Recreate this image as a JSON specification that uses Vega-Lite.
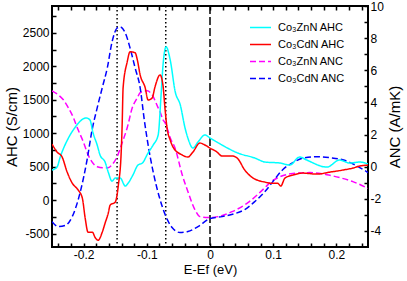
{
  "$schema": "https://vega.github.io/schema/vega-lite/v6.json",
  "width": 316,
  "height": 241,
  "autosize": {"type": "none"},
  "padding": {"left": 52, "top": 6, "right": 39, "bottom": 34},
  "config": {
    "view": {"stroke": "#000", "strokeWidth": 2},
    "font": "Liberation Sans",
    "axis": {"domain": false, "grid": false, "tickColor": "#000", "tickWidth": 1.5, "tickSize": -4, "labelColor": "#000", "titleColor": "#000", "labelFont": "Liberation Sans", "titleFont": "Liberation Sans", "labelFontSize": 12, "titleFontSize": 15, "titleFontWeight": "normal"},
    "legend": {"orient": "none", "legendX": 197, "legendY": 10, "symbolType": "stroke", "symbolSize": 441, "symbolStrokeWidth": 1.5, "labelFontSize": 11, "labelFont": "Liberation Sans", "labelColor": "#000", "rowPadding": 0, "labelOffset": 6, "padding": 0}
  },
  "data": {"values": [
    {"s": "Co₃ZnN AHC", "e": -0.25, "v": 450},
    {"s": "Co₃ZnN AHC", "e": -0.242, "v": 494},
    {"s": "Co₃ZnN AHC", "e": -0.237, "v": 644},
    {"s": "Co₃ZnN AHC", "e": -0.224, "v": 928},
    {"s": "Co₃ZnN AHC", "e": -0.213, "v": 1093},
    {"s": "Co₃ZnN AHC", "e": -0.205, "v": 1183},
    {"s": "Co₃ZnN AHC", "e": -0.196, "v": 1228},
    {"s": "Co₃ZnN AHC", "e": -0.19, "v": 1198},
    {"s": "Co₃ZnN AHC", "e": -0.185, "v": 1003},
    {"s": "Co₃ZnN AHC", "e": -0.1785, "v": 823},
    {"s": "Co₃ZnN AHC", "e": -0.174, "v": 674},
    {"s": "Co₃ZnN AHC", "e": -0.166, "v": 569},
    {"s": "Co₃ZnN AHC", "e": -0.161, "v": 419},
    {"s": "Co₃ZnN AHC", "e": -0.155, "v": 284},
    {"s": "Co₃ZnN AHC", "e": -0.15, "v": 329},
    {"s": "Co₃ZnN AHC", "e": -0.142, "v": 329},
    {"s": "Co₃ZnN AHC", "e": -0.134, "v": 210},
    {"s": "Co₃ZnN AHC", "e": -0.1295, "v": 254},
    {"s": "Co₃ZnN AHC", "e": -0.122, "v": 374},
    {"s": "Co₃ZnN AHC", "e": -0.114, "v": 524},
    {"s": "Co₃ZnN AHC", "e": -0.107, "v": 554},
    {"s": "Co₃ZnN AHC", "e": -0.098, "v": 704},
    {"s": "Co₃ZnN AHC", "e": -0.09, "v": 823},
    {"s": "Co₃ZnN AHC", "e": -0.082, "v": 973},
    {"s": "Co₃ZnN AHC", "e": -0.0774, "v": 1572},
    {"s": "Co₃ZnN AHC", "e": -0.0743, "v": 2021},
    {"s": "Co₃ZnN AHC", "e": -0.0695, "v": 2290},
    {"s": "Co₃ZnN AHC", "e": -0.063, "v": 2096},
    {"s": "Co₃ZnN AHC", "e": -0.055, "v": 1617},
    {"s": "Co₃ZnN AHC", "e": -0.047, "v": 1422},
    {"s": "Co₃ZnN AHC", "e": -0.0395, "v": 1078},
    {"s": "Co₃ZnN AHC", "e": -0.035, "v": 928},
    {"s": "Co₃ZnN AHC", "e": -0.027, "v": 778},
    {"s": "Co₃ZnN AHC", "e": -0.019, "v": 868},
    {"s": "Co₃ZnN AHC", "e": -0.008, "v": 973},
    {"s": "Co₃ZnN AHC", "e": 0, "v": 928},
    {"s": "Co₃ZnN AHC", "e": 0.019, "v": 823},
    {"s": "Co₃ZnN AHC", "e": 0.044, "v": 704},
    {"s": "Co₃ZnN AHC", "e": 0.071, "v": 629},
    {"s": "Co₃ZnN AHC", "e": 0.087, "v": 569},
    {"s": "Co₃ZnN AHC", "e": 0.111, "v": 554},
    {"s": "Co₃ZnN AHC", "e": 0.126, "v": 524},
    {"s": "Co₃ZnN AHC", "e": 0.142, "v": 644},
    {"s": "Co₃ZnN AHC", "e": 0.153, "v": 599},
    {"s": "Co₃ZnN AHC", "e": 0.185, "v": 494},
    {"s": "Co₃ZnN AHC", "e": 0.205, "v": 599},
    {"s": "Co₃ZnN AHC", "e": 0.221, "v": 554},
    {"s": "Co₃ZnN AHC", "e": 0.237, "v": 569},
    {"s": "Co₃ZnN AHC", "e": 0.25, "v": 539},

    {"s": "Co₃CdN AHC", "e": -0.25, "v": 838},
    {"s": "Co₃CdN AHC", "e": -0.242, "v": 719},
    {"s": "Co₃CdN AHC", "e": -0.234, "v": 644},
    {"s": "Co₃CdN AHC", "e": -0.226, "v": 419},
    {"s": "Co₃CdN AHC", "e": -0.218, "v": 254},
    {"s": "Co₃CdN AHC", "e": -0.2085, "v": 150},
    {"s": "Co₃CdN AHC", "e": -0.202, "v": 30},
    {"s": "Co₃CdN AHC", "e": -0.1975, "v": -269},
    {"s": "Co₃CdN AHC", "e": -0.193, "v": -479},
    {"s": "Co₃CdN AHC", "e": -0.186, "v": -479},
    {"s": "Co₃CdN AHC", "e": -0.182, "v": -554},
    {"s": "Co₃CdN AHC", "e": -0.177, "v": -599},
    {"s": "Co₃CdN AHC", "e": -0.1705, "v": -479},
    {"s": "Co₃CdN AHC", "e": -0.166, "v": -344},
    {"s": "Co₃CdN AHC", "e": -0.161, "v": -195},
    {"s": "Co₃CdN AHC", "e": -0.158, "v": -75},
    {"s": "Co₃CdN AHC", "e": -0.15, "v": -30},
    {"s": "Co₃CdN AHC", "e": -0.145, "v": 225},
    {"s": "Co₃CdN AHC", "e": -0.1405, "v": 719},
    {"s": "Co₃CdN AHC", "e": -0.139, "v": 1123},
    {"s": "Co₃CdN AHC", "e": -0.1375, "v": 1677},
    {"s": "Co₃CdN AHC", "e": -0.131, "v": 2066},
    {"s": "Co₃CdN AHC", "e": -0.1265, "v": 2216},
    {"s": "Co₃CdN AHC", "e": -0.1185, "v": 2201},
    {"s": "Co₃CdN AHC", "e": -0.115, "v": 2096},
    {"s": "Co₃CdN AHC", "e": -0.1105, "v": 1871},
    {"s": "Co₃CdN AHC", "e": -0.1025, "v": 1677},
    {"s": "Co₃CdN AHC", "e": -0.098, "v": 1497},
    {"s": "Co₃CdN AHC", "e": -0.0915, "v": 1527},
    {"s": "Co₃CdN AHC", "e": -0.087, "v": 1692},
    {"s": "Co₃CdN AHC", "e": -0.079, "v": 1871},
    {"s": "Co₃CdN AHC", "e": -0.0745, "v": 1722},
    {"s": "Co₃CdN AHC", "e": -0.071, "v": 1347},
    {"s": "Co₃CdN AHC", "e": -0.068, "v": 1078},
    {"s": "Co₃CdN AHC", "e": -0.063, "v": 898},
    {"s": "Co₃CdN AHC", "e": -0.0585, "v": 793},
    {"s": "Co₃CdN AHC", "e": -0.044, "v": 674},
    {"s": "Co₃CdN AHC", "e": -0.035, "v": 644},
    {"s": "Co₃CdN AHC", "e": -0.027, "v": 719},
    {"s": "Co₃CdN AHC", "e": -0.016, "v": 853},
    {"s": "Co₃CdN AHC", "e": -0.008, "v": 823},
    {"s": "Co₃CdN AHC", "e": 0, "v": 778},
    {"s": "Co₃CdN AHC", "e": 0.011, "v": 719},
    {"s": "Co₃CdN AHC", "e": 0.019, "v": 659},
    {"s": "Co₃CdN AHC", "e": 0.035, "v": 659},
    {"s": "Co₃CdN AHC", "e": 0.043, "v": 629},
    {"s": "Co₃CdN AHC", "e": 0.055, "v": 449},
    {"s": "Co₃CdN AHC", "e": 0.066, "v": 344},
    {"s": "Co₃CdN AHC", "e": 0.087, "v": 269},
    {"s": "Co₃CdN AHC", "e": 0.095, "v": 254},
    {"s": "Co₃CdN AHC", "e": 0.107, "v": 254},
    {"s": "Co₃CdN AHC", "e": 0.112, "v": 210},
    {"s": "Co₃CdN AHC", "e": 0.1185, "v": 329},
    {"s": "Co₃CdN AHC", "e": 0.131, "v": 374},
    {"s": "Co₃CdN AHC", "e": 0.147, "v": 404},
    {"s": "Co₃CdN AHC", "e": 0.169, "v": 389},
    {"s": "Co₃CdN AHC", "e": 0.19, "v": 419},
    {"s": "Co₃CdN AHC", "e": 0.21, "v": 449},
    {"s": "Co₃CdN AHC", "e": 0.226, "v": 479},
    {"s": "Co₃CdN AHC", "e": 0.237, "v": 509},
    {"s": "Co₃CdN AHC", "e": 0.25, "v": 524},

    {"s": "Co₃ZnN ANC", "e": -0.25, "v": 4.72},
    {"s": "Co₃ZnN ANC", "e": -0.24, "v": 4.47},
    {"s": "Co₃ZnN ANC", "e": -0.232, "v": 4.16},
    {"s": "Co₃ZnN ANC", "e": -0.224, "v": 3.66},
    {"s": "Co₃ZnN ANC", "e": -0.216, "v": 3.04},
    {"s": "Co₃ZnN ANC", "e": -0.21, "v": 2.42},
    {"s": "Co₃ZnN ANC", "e": -0.2005, "v": 1.55},
    {"s": "Co₃ZnN ANC", "e": -0.193, "v": 0.75},
    {"s": "Co₃ZnN ANC", "e": -0.1785, "v": 0},
    {"s": "Co₃ZnN ANC", "e": -0.169, "v": -0.06},
    {"s": "Co₃ZnN ANC", "e": -0.161, "v": -0.06},
    {"s": "Co₃ZnN ANC", "e": -0.155, "v": 0.12},
    {"s": "Co₃ZnN ANC", "e": -0.147, "v": 0.62},
    {"s": "Co₃ZnN ANC", "e": -0.139, "v": 1.49},
    {"s": "Co₃ZnN ANC", "e": -0.131, "v": 2.42},
    {"s": "Co₃ZnN ANC", "e": -0.123, "v": 3.66},
    {"s": "Co₃ZnN ANC", "e": -0.115, "v": 4.29},
    {"s": "Co₃ZnN ANC", "e": -0.1105, "v": 4.6},
    {"s": "Co₃ZnN ANC", "e": -0.0995, "v": 4.72},
    {"s": "Co₃ZnN ANC", "e": -0.0915, "v": 4.47},
    {"s": "Co₃ZnN ANC", "e": -0.082, "v": 3.66},
    {"s": "Co₃ZnN ANC", "e": -0.079, "v": 3.42},
    {"s": "Co₃ZnN ANC", "e": -0.0745, "v": 2.92},
    {"s": "Co₃ZnN ANC", "e": -0.071, "v": 2.73},
    {"s": "Co₃ZnN ANC", "e": -0.068, "v": 2.42},
    {"s": "Co₃ZnN ANC", "e": -0.063, "v": 1.8},
    {"s": "Co₃ZnN ANC", "e": -0.0555, "v": 1.18},
    {"s": "Co₃ZnN ANC", "e": -0.044, "v": -0.5},
    {"s": "Co₃ZnN ANC", "e": -0.035, "v": -1.55},
    {"s": "Co₃ZnN ANC", "e": -0.024, "v": -2.67},
    {"s": "Co₃ZnN ANC", "e": -0.016, "v": -3.11},
    {"s": "Co₃ZnN ANC", "e": -0.003, "v": -3.17},
    {"s": "Co₃ZnN ANC", "e": 0.0125, "v": -3.11},
    {"s": "Co₃ZnN ANC", "e": 0.035, "v": -2.8},
    {"s": "Co₃ZnN ANC", "e": 0.06, "v": -2.24},
    {"s": "Co₃ZnN ANC", "e": 0.087, "v": -1.3},
    {"s": "Co₃ZnN ANC", "e": 0.095, "v": -0.99},
    {"s": "Co₃ZnN ANC", "e": 0.111, "v": -0.62},
    {"s": "Co₃ZnN ANC", "e": 0.131, "v": -0.43},
    {"s": "Co₃ZnN ANC", "e": 0.158, "v": -0.37},
    {"s": "Co₃ZnN ANC", "e": 0.185, "v": -0.5},
    {"s": "Co₃ZnN ANC", "e": 0.205, "v": -0.68},
    {"s": "Co₃ZnN ANC", "e": 0.226, "v": -0.93},
    {"s": "Co₃ZnN ANC", "e": 0.25, "v": -1.35},

    {"s": "Co₃CdN ANC", "e": -0.25, "v": -3.42},
    {"s": "Co₃CdN ANC", "e": -0.24, "v": -3.73},
    {"s": "Co₃CdN ANC", "e": -0.229, "v": -3.66},
    {"s": "Co₃CdN ANC", "e": -0.218, "v": -3.11},
    {"s": "Co₃CdN ANC", "e": -0.2055, "v": -1.61},
    {"s": "Co₃CdN ANC", "e": -0.1945, "v": 0.43},
    {"s": "Co₃CdN ANC", "e": -0.1865, "v": 2.3},
    {"s": "Co₃CdN ANC", "e": -0.1785, "v": 3.66},
    {"s": "Co₃CdN ANC", "e": -0.1705, "v": 4.91},
    {"s": "Co₃CdN ANC", "e": -0.1625, "v": 6.15},
    {"s": "Co₃CdN ANC", "e": -0.155, "v": 7.76},
    {"s": "Co₃CdN ANC", "e": -0.147, "v": 8.63},
    {"s": "Co₃CdN ANC", "e": -0.142, "v": 8.7},
    {"s": "Co₃CdN ANC", "e": -0.134, "v": 8.32},
    {"s": "Co₃CdN ANC", "e": -0.1265, "v": 7.39},
    {"s": "Co₃CdN ANC", "e": -0.1185, "v": 6.15},
    {"s": "Co₃CdN ANC", "e": -0.1105, "v": 4.91},
    {"s": "Co₃CdN ANC", "e": -0.104, "v": 2.92},
    {"s": "Co₃CdN ANC", "e": -0.098, "v": 1.37},
    {"s": "Co₃CdN ANC", "e": -0.09, "v": -0.31},
    {"s": "Co₃CdN ANC", "e": -0.079, "v": -2.05},
    {"s": "Co₃CdN ANC", "e": -0.071, "v": -2.98},
    {"s": "Co₃CdN ANC", "e": -0.06, "v": -3.79},
    {"s": "Co₃CdN ANC", "e": -0.0475, "v": -4.1},
    {"s": "Co₃CdN ANC", "e": -0.035, "v": -4.04},
    {"s": "Co₃CdN ANC", "e": -0.019, "v": -3.73},
    {"s": "Co₃CdN ANC", "e": 0, "v": -3.23},
    {"s": "Co₃CdN ANC", "e": 0.019, "v": -3.11},
    {"s": "Co₃CdN ANC", "e": 0.0395, "v": -2.92},
    {"s": "Co₃CdN ANC", "e": 0.055, "v": -2.67},
    {"s": "Co₃CdN ANC", "e": 0.071, "v": -2.17},
    {"s": "Co₃CdN ANC", "e": 0.087, "v": -1.55},
    {"s": "Co₃CdN ANC", "e": 0.0995, "v": -0.93},
    {"s": "Co₃CdN ANC", "e": 0.115, "v": -0.19},
    {"s": "Co₃CdN ANC", "e": 0.131, "v": 0.25},
    {"s": "Co₃CdN ANC", "e": 0.15, "v": 0.56},
    {"s": "Co₃CdN ANC", "e": 0.1705, "v": 0.62},
    {"s": "Co₃CdN ANC", "e": 0.19, "v": 0.56},
    {"s": "Co₃CdN ANC", "e": 0.21, "v": 0.43},
    {"s": "Co₃CdN ANC", "e": 0.229, "v": 0.12},
    {"s": "Co₃CdN ANC", "e": 0.25, "v": -0.37}
  ]},
  "layer": [
    {
      "data": {"values": [{"e": -0.147}, {"e": -0.07}]},
      "mark": {"type": "rule", "color": "#000", "strokeWidth": 1.5, "strokeDash": [1.5, 2.5]},
      "encoding": {
        "x": {"field": "e", "type": "quantitative", "scale": {"domain": [-0.25, 0.25], "nice": false, "zero": false},
          "axis": {"orient": "top", "title": null, "labels": false, "values": [-0.24,-0.22,-0.2,-0.18,-0.16,-0.14,-0.12,-0.1,-0.08,-0.06,-0.04,-0.02,0,0.02,0.04,0.06,0.08,0.1,0.12,0.14,0.16,0.18,0.2,0.22,0.24]}}
      }
    },
    {
      "data": {"values": [{"e": 0}]},
      "mark": {"type": "rule", "color": "#000", "strokeWidth": 1.5, "strokeDash": [8, 3]},
      "encoding": {
        "x": {"field": "e", "type": "quantitative", "axis": null}
      }
    },
    {
      "transform": [{"filter": "indexof(datum.s, 'ANC') >= 0"}],
      "mark": {"type": "line", "strokeWidth": 1.5, "interpolate": "monotone", "clip": true},
      "encoding": {
        "x": {"field": "e", "type": "quantitative", "axis": null},
        "y": {"field": "v", "type": "quantitative", "scale": {"domain": [-5, 10], "nice": false, "zero": false},
          "axis": {"orient": "right", "title": "ANC (A/mK)", "titleAngle": 270, "titleBaseline": "top", "titlePadding": 4, "labelPadding": 6,
            "values": [-4,-3,-2,-1,0,1,2,3,4,5,6,7,8,9,10],
            "labelExpr": "datum.value % 2 === 0 ? (datum.value < 0 ? '-' : '') + format(abs(datum.value), 'd') : ''"}},
        "color": {"field": "s", "type": "nominal", "scale": {"domain": ["Co₃ZnN AHC", "Co₃CdN AHC", "Co₃ZnN ANC", "Co₃CdN ANC"], "range": ["#00ffff", "#ff0000", "#ff00ff", "#0000ff"]}, "legend": {"title": null}},
        "strokeDash": {"field": "s", "type": "nominal", "scale": {"domain": ["Co₃ZnN AHC", "Co₃CdN AHC", "Co₃ZnN ANC", "Co₃CdN ANC"], "range": [[1, 0], [1, 0], [6, 3], [6, 3]]}, "legend": {"title": null}}
      }
    },
    {
      "transform": [{"filter": "indexof(datum.s, 'AHC') >= 0"}],
      "mark": {"type": "line", "strokeWidth": 1.5, "interpolate": "monotone", "clip": true},
      "encoding": {
        "x": {"field": "e", "type": "quantitative",
          "axis": {"orient": "bottom", "title": "E-Ef (eV)", "titleFontSize": 13, "labelPadding": 6, "titlePadding": 3,
            "values": [-0.24,-0.22,-0.2,-0.18,-0.16,-0.14,-0.12,-0.1,-0.08,-0.06,-0.04,-0.02,0,0.02,0.04,0.06,0.08,0.1,0.12,0.14,0.16,0.18,0.2,0.22,0.24],
            "labelExpr": "abs(datum.value * 10 - round(datum.value * 10)) < 0.01 ? (datum.value < -0.001 ? '-' : '') + format(abs(datum.value), '.1~f') : ''"}},
        "y": {"field": "v", "type": "quantitative", "scale": {"domain": [-700, 2900], "nice": false, "zero": false},
          "axis": {"orient": "left", "title": "AHC (S/cm)", "titlePadding": 3, "labelPadding": 7,
            "values": [-500,-250,0,250,500,750,1000,1250,1500,1750,2000,2250,2500,2750],
            "labelExpr": "datum.value % 500 === 0 ? (datum.value < 0 ? '-' : '') + format(abs(datum.value), 'd') : ''"}},
        "color": {"field": "s", "type": "nominal", "legend": {"title": null}},
        "strokeDash": {"field": "s", "type": "nominal", "legend": {"title": null}}
      }
    }
  ],
  "resolve": {"scale": {"y": "independent"}, "axis": {"x": "independent", "y": "independent"}}
}
